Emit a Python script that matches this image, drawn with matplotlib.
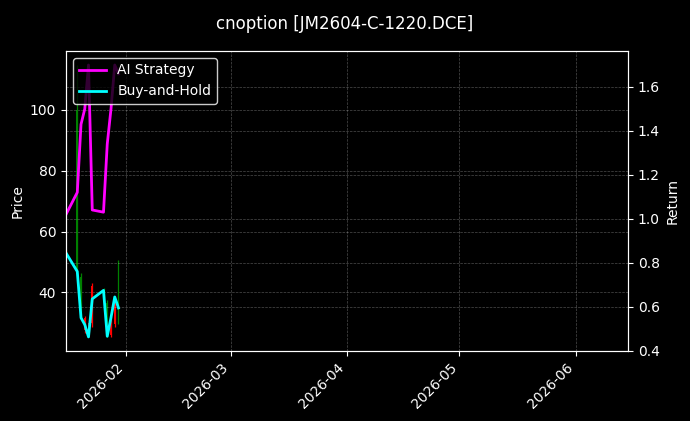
import numpy as np
import pandas as pd
import matplotlib
matplotlib.use("Agg")
import matplotlib.pyplot as plt
import matplotlib.dates as mdates

plt.style.use("dark_background")

# daily bars (prices)
dates = pd.to_datetime(["2026-01-16", "2026-01-19", "2026-01-20", "2026-01-21",
                        "2026-01-22", "2026-01-23", "2026-01-26", "2026-01-27",
                        "2026-01-28", "2026-01-29", "2026-01-30"])
opens = [53.0, 48.0, 32.0, 31.5, 30.0, 42.0, 38.0, 27.0, 31.5, 36.5, 30.0]
highs = [54.0, 114.9, 46.4, 32.2, 31.0, 43.1, 41.4, 37.5, 32.2, 37.5, 50.7]
lows = [52.0, 47.4, 31.6, 26.6, 27.0, 28.6, 37.5, 25.3, 25.2, 28.6, 29.6]
closes = [53.5, 100.0, 45.0, 27.5, 28.0, 30.0, 40.5, 36.5, 26.0, 29.5, 48.0]

ai_strategy = [1.02, 1.12, 1.43, 1.50, 1.70, 1.04, 1.03, 1.34, 1.50, 1.70, 1.66]
buy_hold = [0.844, 0.760, 0.549, 0.518, 0.462, 0.635, 0.674, 0.465, 0.55, 0.644, 0.594]

x_start = pd.Timestamp("2026-01-16")
x_end = pd.Timestamp("2026-06-15")

fig = plt.figure(figsize=(6.9, 4.21), dpi=100)
fig.patch.set_facecolor("black")
ax = fig.add_axes([0.0957, 0.1663, 0.8145, 0.7127])
ax.set_facecolor("black")

for d, o, h, l, c in zip(dates, opens, highs, lows, closes):
    col = "green" if c >= o else "red"
    ax.vlines(d, l, h, color=col, linewidth=0.9)
    ax.bar(d, abs(c - o), bottom=min(o, c), width=0.5, color=col, linewidth=0)

ax.set_ylabel("Price", color="white")
ax.grid(True, linestyle="--", linewidth=0.5, alpha=0.3)

ax2 = ax.twinx()
ax2.plot(dates, ai_strategy, color="magenta", linewidth=2, label="AI Strategy")
ax2.plot(dates, buy_hold, color="cyan", linewidth=2, label="Buy-and-Hold")
ax2.set_ylabel("Return", color="white")
ax2.set_ylim(0.398, 1.764)
ax2.grid(True, linestyle="--", linewidth=0.5, alpha=0.3)

ax.set_xlim(x_start, x_end)
ax.xaxis.set_major_locator(mdates.MonthLocator())
ax.xaxis.set_major_formatter(mdates.DateFormatter("%Y-%m"))
plt.setp(ax.get_xticklabels(), rotation=45, ha="right")

leg = ax2.legend(loc="upper left", facecolor="black", edgecolor="white", framealpha=0.8)

fig.suptitle("cnoption [JM2604-C-1220.DCE]", color="white", fontsize=12, y=0.965)

fig.savefig("out.png", dpi=100, facecolor=fig.get_facecolor())
